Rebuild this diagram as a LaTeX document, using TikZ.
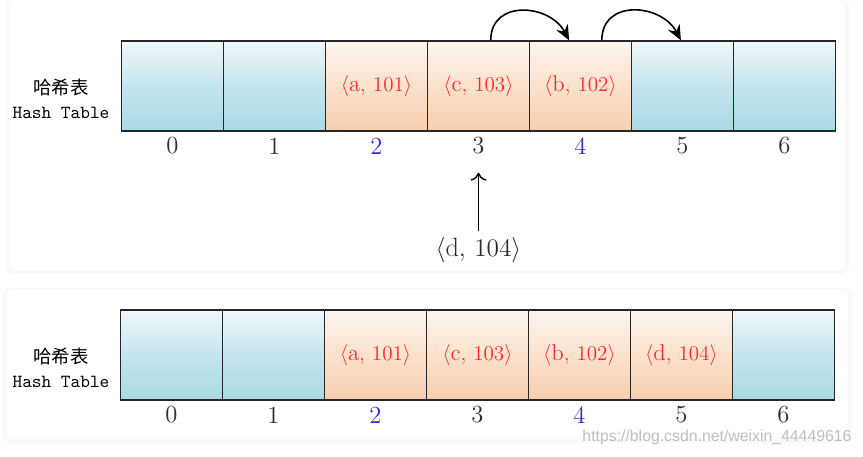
\documentclass[tikz,border=0pt]{standalone}
\usepackage{fontspec}
\newfontfamily\cjk{Noto Sans CJK SC}
\newfontfamily\wmfont{Liberation Sans}
\usepackage{tikz}
\usetikzlibrary{arrows.meta}
\definecolor{blueTop}{RGB}{240,247,250}
\definecolor{blueMid}{RGB}{196,229,238}
\definecolor{blueBot}{RGB}{170,217,228}
\definecolor{orangeTop}{RGB}{253,245,239}
\definecolor{orangeMid}{RGB}{251,225,205}
\definecolor{orangeBot}{RGB}{248,206,174}
\definecolor{keyred}{RGB}{255,40,40}
\definecolor{idxblue}{RGB}{60,40,210}
\definecolor{idxgray}{RGB}{45,45,45}
\tikzstyle{emptycell} = [draw=black!85, rectangle, line width=0.8pt, minimum height=1.8cm, minimum width=2.04cm, inner sep=0pt, top color=blueTop, bottom color=blueBot, middle color=blueMid]
\tikzstyle{fullcell} = [draw=black!85, rectangle, line width=0.8pt, minimum height=1.8cm, minimum width=2.04cm, inner sep=0pt, top color=orangeTop, bottom color=orangeBot, middle color=orangeMid, text=keyred, font=\fontsize{13}{15}\selectfont]
\tikzstyle{index} = [text=idxgray, font=\fontsize{14}{16}\selectfont]
\tikzstyle{hot} = [text=idxblue, font=\fontsize{14}{16}\selectfont]
\tikzstyle{title} = [align=center, font=\fontsize{10.5}{13.6}\selectfont]
\tikzstyle{panel} = [fill=white, rounded corners=3pt]
\tikzstyle{shade} = [fill=black!2.5, rounded corners=4pt]

\begin{document}
\begin{tikzpicture}[auto, node distance=2.04cm, >={Stealth[length=3mm, width=2.6mm]}]
		\useasboundingbox (0,0) rectangle (17.26,9.12);
		% the two panels
		\fill [shade] (0.12,3.64) rectangle (16.98,9.12);
		\fill [panel] (0.18,3.72) rectangle (16.90,9.12);
		\fill [shade] (0.06,0.26) rectangle (17.04,3.36);
		\fill [panel] (0.12,0.34) rectangle (16.96,3.32);

		% before: <d,104> collides at 3
		\node [emptycell] (a0) at (3.45,7.40) {};
		\node [emptycell, right of=a0] (a1) {};
		\node [fullcell, right of=a1] (a2) {$\langle\mathrm{a},\, 101\rangle$};
		\node [fullcell, right of=a2] (a3) {$\langle\mathrm{c},\, 103\rangle$};
		\node [fullcell, right of=a3] (a4) {$\langle\mathrm{b},\, 102\rangle$};
		\node [emptycell, right of=a4] (a5) {};
		\node [emptycell, right of=a5] (a6) {};
		\node [title, left of=a0, node distance=2.23cm, yshift=-0.26cm] (ta) {{\cjk 哈希表}\\{\ttfamily Hash Table}};

		\node [index, below of=a0, node distance=1.2cm] (ia0) {0};
		\node [index, below of=a1, node distance=1.2cm] (ia1) {1};
		\node [hot, below of=a2, node distance=1.2cm] (ia2) {2};
		\node [index, below of=a3, node distance=1.2cm] (ia3) {3};
		\node [hot, below of=a4, node distance=1.2cm] (ia4) {4};
		\node [index, below of=a5, node distance=1.2cm] (ia5) {5};
		\node [index, below of=a6, node distance=1.2cm] (ia6) {6};

		\node [text=idxgray, font=\fontsize{15}{17}\selectfont, below of=ia3, node distance=2.08cm] (newkey) {$\langle\mathrm{d},\, 104\rangle$};

		\draw [-{To[length=1.6mm, width=3.2mm]}, line width=0.8pt, shorten >=0.24cm] (newkey) -- (ia3);
		\draw [->, line width=0.9pt] (a3.75) to [out=90, in=118, looseness=1.35] (a4.104);
		\draw [->, line width=0.9pt] (a4.65) to [out=90, in=118, looseness=1.35] (a5.92);

		% after: linear probing puts it at 5
		\node [emptycell] (b0) at (3.43,2.02) {};
		\node [emptycell, right of=b0] (b1) {};
		\node [fullcell, right of=b1] (b2) {$\langle\mathrm{a},\, 101\rangle$};
		\node [fullcell, right of=b2] (b3) {$\langle\mathrm{c},\, 103\rangle$};
		\node [fullcell, right of=b3] (b4) {$\langle\mathrm{b},\, 102\rangle$};
		\node [fullcell, right of=b4] (b5) {$\langle\mathrm{d},\, 104\rangle$};
		\node [emptycell, right of=b5] (b6) {};
		\node [title, left of=b0, node distance=2.21cm, yshift=-0.26cm] (tb) {{\cjk 哈希表}\\{\ttfamily Hash Table}};

		\node [index, below of=b0, node distance=1.2cm] (ib0) {0};
		\node [index, below of=b1, node distance=1.2cm] (ib1) {1};
		\node [hot, below of=b2, node distance=1.2cm] (ib2) {2};
		\node [index, below of=b3, node distance=1.2cm] (ib3) {3};
		\node [hot, below of=b4, node distance=1.2cm] (ib4) {4};
		\node [index, below of=b5, node distance=1.2cm] (ib5) {5};
		\node [index, below of=b6, node distance=1.2cm] (ib6) {6};

		\node [text=black!25, font=\wmfont\fontsize{9}{11}\selectfont] (wm) at (14.34,0.38) {https://blog.csdn.net/weixin\_44449616};
	\end{tikzpicture}
\end{document}
